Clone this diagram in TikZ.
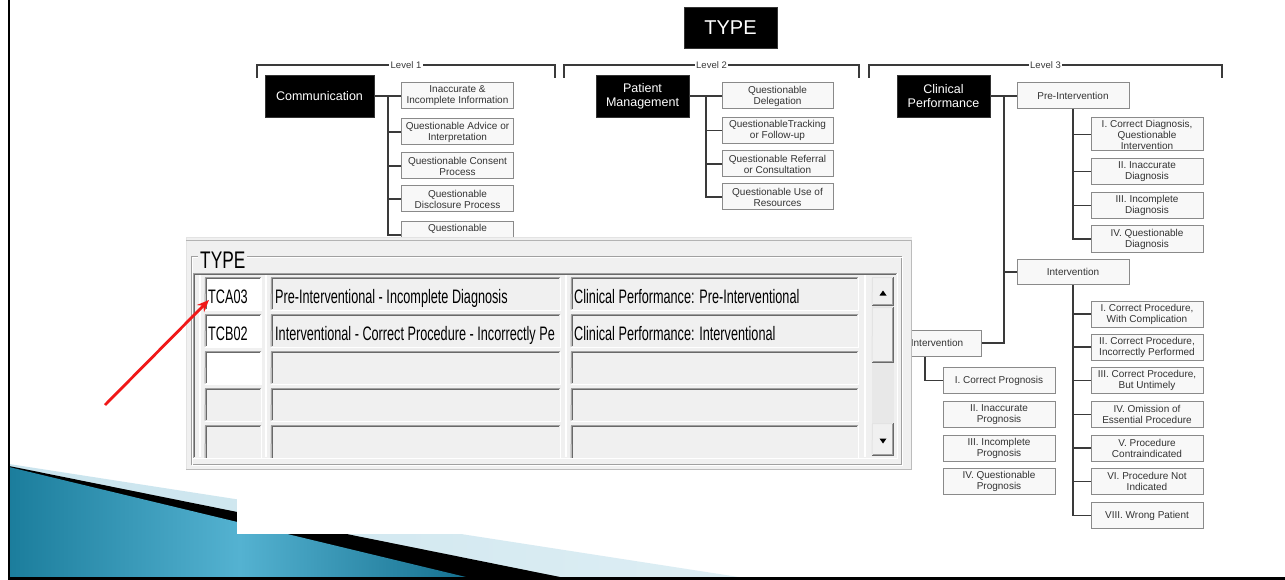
\documentclass[tikz,border=0pt]{standalone}
\usepackage{graphicx}
\usepackage{fontspec}
\setmainfont{Liberation Sans}
\usetikzlibrary{calc,arrows.meta}

\definecolor{linec}{HTML}{3A3A3A}
\definecolor{leafedge}{HTML}{8A8A8A}
\definecolor{leaffill}{HTML}{F8F8F8}
\definecolor{leaftext}{HTML}{333333}
\definecolor{formbg}{HTML}{F0F0F0}
\definecolor{edgedark}{HTML}{696969}
\definecolor{edgemid}{HTML}{A0A0A0}
\definecolor{edgelight}{HTML}{E3E3E3}
\definecolor{tracktone}{HTML}{E8E8E8}
\definecolor{tealdark}{HTML}{146F8E}
\definecolor{tealmid}{HTML}{1B7D9C}
\definecolor{teallight}{HTML}{54B2D1}
\definecolor{paleblue}{HTML}{BCDDE9}
\definecolor{arrowred}{HTML}{F01818}

% horizontally condensed text, as in the form
\newcommand\formtxt[1]{\scalebox{0.65}[1]{#1}}

% sunken grid cell: name, fill, x1, y1, x2, y2
\newcommand\gridcell[6]{%
  \node[cellbox, fill=#2, minimum width={(#5)-(#3)}, minimum height={(#6)-(#4)}, anchor=north west] (#1) at (#3,#4) {};
  \draw[white, line width=1pt] (#1.south west) -- (#1.south east) -- (#1.north east);
  \draw[edgemid, line width=1pt] ([yshift=0.5pt]#1.south west) -- ([xshift=0.5pt,yshift=-0.5pt]#1.north west) -- ([yshift=-0.5pt]#1.north east);
  \draw[edgedark, line width=1.2pt] ([xshift=1.6pt,yshift=1pt]#1.south west) -- ([xshift=1.6pt,yshift=-1.6pt]#1.north west) -- ([xshift=-1pt,yshift=-1.6pt]#1.north east);
}

% raised button: name, x1, y1, x2, y2
\newcommand\raisedbtn[5]{%
  \node[cellbox, fill=formbg, minimum width={(#4)-(#2)}, minimum height={(#5)-(#3)}, anchor=north west] (#1) at (#2,#3) {};
  \draw[edgelight, line width=1pt] ([yshift=0.5pt]#1.south west) -- ([xshift=0.5pt,yshift=-0.5pt]#1.north west) -- ([yshift=-0.5pt]#1.north east);
  \draw[edgedark, line width=1pt] ([yshift=0.5pt]#1.south west) -- ([xshift=-0.5pt,yshift=0.5pt]#1.south east) -- ([xshift=-0.5pt]#1.north east);
  \draw[edgemid, line width=1pt] ([xshift=1pt,yshift=1.5pt]#1.south west) -- ([xshift=-1.5pt,yshift=1.5pt]#1.south east) -- ([xshift=-1.5pt,yshift=-1pt]#1.north east);
}

\tikzset{
  conn/.style={draw=linec, line width=1.6pt},
  bracket/.style={draw=linec, line width=1.8pt},
  levellabel/.style={fill=white, inner sep=1.5pt, text=linec, font=\fontsize{9.5}{10}\selectfont},
  headbox/.style={fill=black, draw=black!80, text=white, inner sep=0pt, align=center,
    font=\fontsize{12.5}{14}\selectfont, minimum width=93pt, minimum height=42pt},
  leafbox/.style={fill=leaffill, draw=leafedge, line width=1pt, text=leaftext, inner sep=0pt,
    align=center, font=\fontsize{10}{11}\selectfont, minimum width=112pt, minimum height=26pt},
  cellbox/.style={inner sep=0pt, outer sep=0pt, draw=none},
  formtext/.style={inner sep=0pt, anchor=base west, font=\fontsize{19.5}{20}\selectfont, text=black},
  arrowtri/.style={fill=black}
}

\begin{document}
\begin{tikzpicture}[x=1pt,y=-1pt]
\useasboundingbox (0,0) rectangle (1285,580);
\fill[white] (0,0) rectangle (1285,580);

% ---------- slide decoration, bottom left ----------
\shade[left color=paleblue!80, right color=paleblue!50] (9,464) -- (745,578) -- (9,578) -- cycle;
\fill[black] (9,466) -- (565,578) -- (9,578) -- cycle;
\shade[left color=tealmid, right color=tealdark, middle color=teallight] (9,467) -- (470,578) -- (9,578) -- cycle;

% ---------- chart sheet ----------
\fill[white] (237,0) rectangle (1222,534);

\node[headbox, minimum width=93pt, minimum height=41pt, font=\fontsize{20}{22}\selectfont] (type) at (730.5,27.5) {TYPE};

% level brackets
\draw[bracket] (257,78) |- (555,65) -- (555,78);
\draw[bracket] (564,78) |- (859,65) -- (859,78);
\draw[bracket] (869,78) |- (1222,65) -- (1222,78);
\node[levellabel] (lv1) at (406,65) {Level 1};
\node[levellabel] (lv2) at (711.5,65) {Level 2};
\node[levellabel] (lv3) at (1045.5,65) {Level 3};

% Level 1: communication
\node[headbox, minimum width=109pt] (comm) at (319.5,96) {Communication};
\node[leafbox] (a1) at (457.5,96) {Inaccurate \&\\Incomplete Information};
\node[leafbox] (a2) at (457.5,132) {Questionable Advice or\\Interpretation};
\node[leafbox] (a3) at (457.5,166) {Questionable Consent\\Process};
\node[leafbox] (a4) at (457.5,199) {Questionable\\Disclosure Process};
\node[leafbox] (a5) at (457.5,235) {Questionable\\\strut};
\draw[conn] (comm.east) -- ++(14,0);
\foreach \c in {a1,a2,a3,a4,a5} \draw[conn] (comm.east) ++(14,0) |- (\c.west);

% Level 2: patient management
\node[headbox] (pm) at (642.5,96) {Patient\\Management};
\node[leafbox, minimum width=111pt] (b1) at (777.5,96) {Questionable\\Delegation};
\node[leafbox, minimum width=111pt] (b2) at (777.5,130.5) {QuestionableTracking\\or Follow-up};
\node[leafbox, minimum width=111pt] (b3) at (777.5,164) {Questionable Referral\\or Consultation};
\node[leafbox, minimum width=111pt] (b4) at (777.5,197) {Questionable Use of\\Resources};
\draw[conn] (pm.east) -- ++(17,0);
\foreach \c in {b1,b2,b3,b4} \draw[conn] (pm.east) ++(17,0) |- (\c.west);

% Level 3: clinical performance
\node[headbox] (cp) at (943.5,96) {Clinical\\Performance};
\node[leafbox] (pre) at (1073,96) {Pre-Intervention};
\node[leafbox, minimum height=25pt] (int) at (1073,272) {Intervention};
\node[leafbox, minimum width=88pt] (post) at (937,343) {Intervention};
\draw[conn] (cp.east) -- (pre.west);
\draw[conn] (cp.east) ++(14,0) |- (int.west);
\draw[conn] (cp.east) ++(14,0) |- (post.east);

\node[leafbox, minimum height=33pt] (c1) at (1147,134.5) {I. Correct Diagnosis,\\Questionable\\Intervention};
\node[leafbox] (c2) at (1147,171.5) {II. Inaccurate\\Diagnosis};
\node[leafbox] (c3) at (1147,205.5) {III. Incomplete\\Diagnosis};
\node[leafbox] (c4) at (1147,239) {IV. Questionable\\Diagnosis};
\foreach \c in {c1,c2,c3,c4} \draw[conn] (pre.south) |- (\c.west);

\node[leafbox] (d1) at (1147,314) {I. Correct Procedure,\\With Complication};
\node[leafbox] (d2) at (1147,347) {II. Correct Procedure,\\Incorrectly Performed};
\node[leafbox] (d3) at (1147,380.5) {III. Correct Procedure,\\But Untimely};
\node[leafbox] (d4) at (1147,414.5) {IV. Omission of\\Essential Procedure};
\node[leafbox] (d5) at (1147,448) {V. Procedure\\Contraindicated};
\node[leafbox] (d6) at (1147,481.5) {VI. Procedure Not\\Indicated};
\node[leafbox] (d7) at (1147,515.5) {VIII. Wrong Patient};
\foreach \c in {d1,d2,d3,d4,d5,d6,d7} \draw[conn] (int.south) |- (\c.west);

\node[leafbox] (e1) at (999,380.5) {I. Correct Prognosis};
\node[leafbox] (e2) at (999,414.5) {II. Inaccurate\\Prognosis};
\node[leafbox] (e3) at (999,448) {III. Incomplete\\Prognosis};
\node[leafbox] (e4) at (999,481.5) {IV. Questionable\\Prognosis};
\draw[conn] ([xshift=-12pt]post.south) |- (e1.west);

% ---------- TYPE entry form ----------
\fill[formbg] (186,237) rectangle (912,470);
\draw[edgelight, line width=1pt] (186.5,470) -- (186.5,237.5) -- (912,237.5);
\draw[edgemid!80, line width=1pt] (186,240.5) -- (912,240.5);
\draw[edgemid!70, line width=1pt] (186,469.5) -- (911.5,469.5) -- (911.5,240);

% group frame
\draw[edgemid, line width=1pt] (191.5,256.5) rectangle (901.5,464.5);
\draw[white, line width=1pt] (192.5,257.5) rectangle (902.5,465.5);
\node[anchor=base west, fill=formbg, inner xsep=2pt, inner ysep=1pt, font=\fontsize{24}{24}\selectfont] (grouplabel) at (198,268) {\scalebox{0.72}[1]{TYPE}};

% grid frame
\draw[edgemid, line width=1pt] (193.5,457.5) -- (193.5,273.5) -- (896.5,273.5);
\draw[edgedark, line width=1pt] (194.5,457) -- (194.5,274.5) -- (895.5,274.5);
\draw[white, line width=1pt] (193,458.5) -- (897.5,458.5) -- (897.5,273);

\begin{scope}
  \clip (195,275) rectangle (896.5,457.5);
  % column separators
  \draw[white, line width=2pt] (200,275) -- (200,457);
  \draw[white, line width=2pt] (266,275) -- (266,457);
  \draw[white, line width=2pt] (565.5,275) -- (565.5,457);
  \draw[white, line width=2pt] (865,275) -- (865,457);
  % rows
  \gridcell{r1a}{white}{205}{277}{261}{310}
  \gridcell{r1b}{formbg}{271}{277}{560}{310}
  \gridcell{r1c}{formbg}{571}{277}{858}{310}
  \gridcell{r2a}{white}{205}{314}{261}{347}
  \gridcell{r2b}{formbg}{271}{314}{560}{347}
  \gridcell{r2c}{formbg}{571}{314}{858}{347}
  \gridcell{r3a}{white}{205}{351}{261}{384}
  \gridcell{r3b}{formbg}{271}{351}{560}{384}
  \gridcell{r3c}{formbg}{571}{351}{858}{384}
  \gridcell{r4a}{formbg}{205}{388}{261}{421}
  \gridcell{r4b}{formbg}{271}{388}{560}{421}
  \gridcell{r4c}{formbg}{571}{388}{858}{421}
  \gridcell{r5a}{formbg}{205}{425}{261}{462}
  \gridcell{r5b}{formbg}{271}{425}{560}{462}
  \gridcell{r5c}{formbg}{571}{425}{858}{462}
\end{scope}

\node[formtext] (tca) at (208,303) {\formtxt{TCA03}};
\node[formtext] (t1b) at (275,303) {\formtxt{Pre-Interventional - Incomplete Diagnosis}};
\node[formtext] (t1c) at (574,303) {\formtxt{Clinical Performance: Pre-Interventional}};
\node[formtext] (tcb) at (208,340) {\formtxt{TCB02}};
\begin{scope}
  \clip (272,315) rectangle (558.5,346);
  \node[formtext] (t2b) at (275,340) {\formtxt{Interventional - Correct Procedure - Incorrectly Pe}};
\end{scope}
\node[formtext] (t2c) at (574,340) {\formtxt{Clinical Performance: Interventional}};

% scroll bar
\fill[tracktone] (872,306) rectangle (894,456);
\raisedbtn{sbup}{872}{277}{894}{306}
\raisedbtn{sbthumb}{872}{307}{894}{363}
\raisedbtn{sbdown}{872}{423}{894}{456}
\fill[arrowtri] (879.5,295.5) -- (886.5,295.5) -- (883,290.5) -- cycle;
\fill[arrowtri] (879.5,438.5) -- (886.5,438.5) -- (883,443.5) -- cycle;

% ---------- pointer ----------
\coordinate (arrowtail) at (105,405);
\draw[arrowred, line width=2.8pt, -{Stealth[length=12pt,width=10pt]}] (arrowtail) -- ($(tca.base west)+(1,-3)$);

% ---------- slide frame ----------
\draw[black, line width=2.5pt] (9,0) -- (9,578.5) -- (1285,578.5);
\end{tikzpicture}
\end{document}
